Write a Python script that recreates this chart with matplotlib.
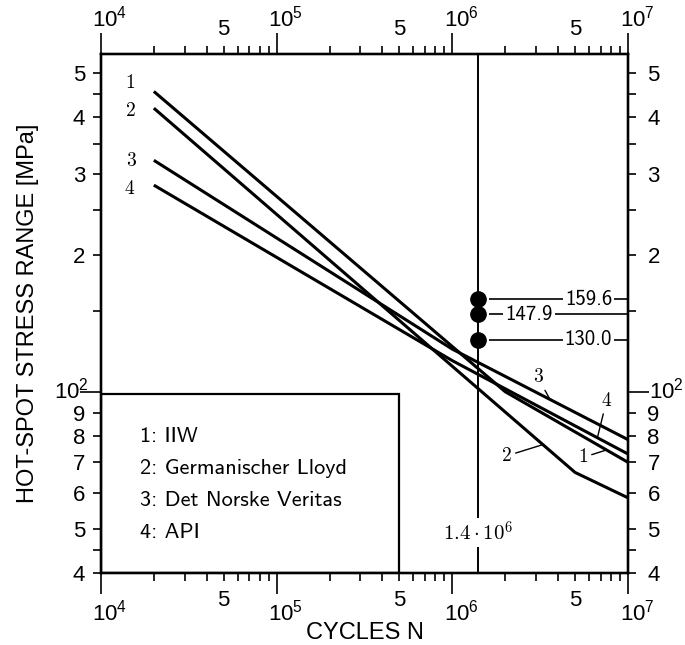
import numpy as np
import matplotlib
matplotlib.use("Agg")
from matplotlib import pyplot as plt
from matplotlib.patches import Rectangle
import matplotlib.transforms as mtransforms

# S-N curves: cycles N and hot-spot stress range [MPa]
iiw_n = [2e4, 2e6, 1e7]
iiw_s = [456, 100, 70]
gl_n = [2e4, 5e6, 1e7]
gl_s = [419, 66.5, 58.5]
dnv_n = [2e4, 1e6, 1e7]
dnv_s = [322, 124, 78.5]
api_n = [2e4, 1e6, 1e7]
api_s = [284, 117, 73]
curve_names = ["IIW", "Germanischer Lloyd", "Det Norske Veritas", "API"]

# measured hot-spot stresses at 1.4e6 cycles
n_test = 1.4e6
s_test = [159.6, 147.9, 130.0]
s_test_labels = ["159.6", "147.9", "130.0"]

x_major = [1e4, 1e5, 1e6, 1e7]
x_major_labels = [r"$10^4$", r"$10^5$", r"$10^6$", r"$10^7$"]
y_labeled = [40, 50, 60, 70, 80, 90, 200, 300, 400, 500]
y_labeled_text = ["4", "5", "6", "7", "8", "9", "2", "3", "4", "5"]
y_unlabeled = [45, 150, 250, 350, 450]

plt.rcParams["font.family"] = "Liberation Sans"
plt.rcParams["mathtext.fontset"] = "custom"
plt.rcParams["mathtext.rm"] = "Liberation Sans"
plt.rcParams["mathtext.it"] = "Liberation Sans:italic"
plt.rcParams["mathtext.bf"] = "Liberation Sans:bold"

fig = plt.figure(figsize=(6.85, 6.45), dpi=100)
ax = fig.add_axes([0.1474, 0.1116, 0.7693, 0.8047])
ax_t = ax.twiny()
ax_r = ax.twinx()

x_minor = [k * 10.0 ** e for e in (4, 5, 6) for k in range(2, 10)]
x_minor_labels = ["5" if k == 5 else "" for e in (4, 5, 6) for k in range(2, 10)]

for a in (ax, ax_t, ax_r):
    a.set_xscale("log")
    a.set_yscale("log")
    a.set_xlim(1e4, 1e7)
    a.set_ylim(40, 551)
    for sp in a.spines.values():
        sp.set_linewidth(1.6)

for a in (ax, ax_t):
    a.set_xticks(x_major, x_major_labels)
    a.set_xticks(x_minor, x_minor_labels, minor=True)
for a in (ax, ax_r):
    a.set_yticks([100], [r"$10^2$"])
    a.set_yticks(y_labeled + y_unlabeled, y_labeled_text + [""] * len(y_unlabeled), minor=True)

ax.tick_params(axis="x", which="major", length=15, width=1.2, labelsize=16, pad=4)
ax.tick_params(axis="x", which="minor", length=6, width=1.2, labelsize=16, pad=6)
ax_t.tick_params(axis="x", which="major", length=15, width=1.2, labelsize=16, pad=1.5)
ax_t.tick_params(axis="x", which="minor", length=6, width=1.2, labelsize=16, pad=4)
ax.tick_params(axis="y", which="major", length=15, width=1.2, labelsize=16, pad=-6)
ax.tick_params(axis="y", which="minor", length=6, width=1.2, labelsize=16, pad=5.5)
ax_r.tick_params(axis="y", which="major", length=15, width=1.2, labelsize=16, pad=0)
ax_r.tick_params(axis="y", which="minor", length=6, width=1.2, labelsize=16, pad=8)

# the powers of ten sit a little right of their ticks, 10^2 a little higher
shift = mtransforms.ScaledTranslation(9 / 100, 0, fig.dpi_scale_trans)
for a in (ax, ax_t):
    for lbl in a.xaxis.get_majorticklabels():
        lbl.set_transform(lbl.get_transform() + shift)
lift = mtransforms.ScaledTranslation(0, 4 / 100, fig.dpi_scale_trans)
for a in (ax, ax_r):
    for lbl in a.yaxis.get_majorticklabels():
        lbl.set_transform(lbl.get_transform() + lift)

# vertical line at the test life
ax.axvline(n_test, color="black", lw=1.4, zorder=1)

curves = [(iiw_n, iiw_s), (gl_n, gl_s), (dnv_n, dnv_s), (api_n, api_s)]
for n, s in curves:
    ax.plot(n, s, color="black", lw=2.2, solid_capstyle="butt", zorder=3)

# curve numbers at the left ends
start_pos = [(1.46e4, 475), (1.48e4, 413), (1.48e4, 320), (1.45e4, 278)]
for i, (x, y) in enumerate(start_pos):
    ax.text(x, y, str(i + 1), fontfamily="cmr10", fontsize=14, ha="center", va="center")

# curve numbers with leaders at the right ends
label_pos = [(5.53e6, 71.7), (2.04e6, 72.3), (3.07e6, 107.5), (7.55e6, 95.5)]
leader_n = [7.55e6, 3.28e6, 3.6e6, 6.7e6]
for i, ((n, s), pos, xn) in enumerate(zip(curves, label_pos, leader_n)):
    ys = 10 ** np.interp(np.log10(xn), np.log10(n), np.log10(s))
    ax.annotate(str(i + 1), xy=(xn, ys), xytext=pos, ha="center", va="center",
                fontfamily="cmr10", fontsize=14,
                arrowprops=dict(arrowstyle="-", lw=1.0, color="black", shrinkA=1, shrinkB=0))

# measured points
ax.hlines(s_test, n_test * 1.15, 1e7, color="black", lw=1.2, zorder=2)
ax.plot([n_test] * len(s_test), s_test, "o", color="black", ms=11, zorder=4)
text_n = [5.96e6, 2.73e6, 5.96e6]
for s, lbl, xn in zip(s_test, s_test_labels, text_n):
    ax.text(xn, s, lbl, fontfamily="cmss10", fontsize=15, ha="center", va="center",
            bbox=dict(facecolor="white", edgecolor="none", pad=1.5), zorder=3)

ax.text(n_test, 49.1, r"$1.4\cdot10^6$", math_fontfamily="cm", fontsize=15,
        ha="center", va="center", bbox=dict(facecolor="white", edgecolor="none", pad=1.5), zorder=3)

# legend box
ax.add_patch(Rectangle((1e4, 40), 5e5 - 1e4, 99 - 40, fill=False, edgecolor="black", lw=1.6, zorder=3))
for i, name in enumerate(curve_names):
    ax.text(0.074, 0.263 - i * 0.0615, f"{i + 1}: {name}", transform=ax.transAxes,
            fontfamily="cmss10", fontsize=16, va="center")

ax.set_xlabel("CYCLES N", fontsize=17)
ax.xaxis.set_label_coords(0.5, -0.094)
ax.set_ylabel("HOT-SPOT STRESS RANGE [MPa]", fontsize=17)
ax.yaxis.set_label_coords(-0.118, 0.5)

fig.savefig("out.png", dpi=100)
